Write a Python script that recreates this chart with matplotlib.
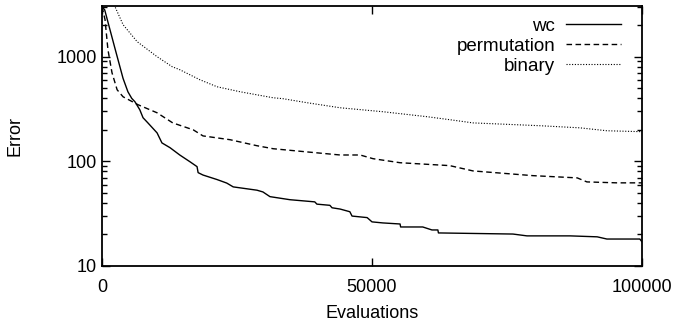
import numpy as np
import matplotlib
matplotlib.use('Agg')
import matplotlib.pyplot as plt
from matplotlib.ticker import LogLocator, NullFormatter, FixedLocator

plt.rcParams['font.family'] = ['Liberation Sans', 'DejaVu Sans']

# 数据：估计值
wc_x = [0, 500, 2400, 3900, 4800, 5500, 6100, 7000, 7600, 8500, 10200, 11100,
        12600, 14400, 16300, 17600, 17800, 18700, 21300, 23100, 24300, 28700,
        29800, 31100, 34800, 39400, 39800, 42200, 42600, 44100, 45900, 46300,
        49100, 50000, 52000, 55200, 55300, 59400, 61100, 62200, 62300, 76100,
        78700, 86700, 91700, 93500, 99600, 100000]
wc_y = [3000, 2800, 1200, 620, 462, 400, 371, 311, 261, 233, 187, 150,
        135, 115, 99, 89, 78, 74, 67, 62, 57, 53,
        51, 46, 43, 41, 39, 38, 36, 35, 33, 30,
        29, 26.4, 25.8, 25.2, 23.6, 23.6, 22.1, 22.1, 20.7, 20.2,
        19.4, 19.4, 19.0, 18.1, 18.1, 17.0]

perm_x = [0, 560, 1100, 1850, 2800, 3900, 6700, 10200, 13100, 16900, 18700,
          23700, 28700, 31700, 38000, 44100, 47800, 50200, 55200, 64400,
          68700, 79800, 88000, 89800, 95400, 100000]
perm_y = [3000, 2260, 1166, 703, 483, 414, 347, 291, 233, 200, 175,
          161, 141, 132, 123, 115, 115, 106, 97, 91,
          81, 73, 69.5, 63.6, 62.3, 62.3]

bin_x = [2000, 2400, 3900, 6500, 10200, 13000, 14400, 18100, 21300, 25600,
         31700, 33500, 38000, 44100, 52000, 60200, 64400, 68700, 81100,
         88500, 93500, 100000]
bin_y = [3300, 3010, 2023, 1393, 1000, 802, 751, 603, 516, 462,
         405, 397, 363, 325, 298, 267, 250, 233, 219,
         209, 196, 192]

fig = plt.figure(figsize=(6.78, 3.27), dpi=100)
ax = fig.add_axes([102 / 678, 1 - 266 / 327, 540 / 678, 260 / 327])

ax.plot(wc_x, wc_y, 'k-', linewidth=1.0, label='wc')
ax.plot(perm_x, perm_y, 'k', linestyle=(0, (4, 2.5)), linewidth=1.0, label='permutation')
ax.plot(bin_x, bin_y, 'k', linestyle=(0, (1, 1.5)), linewidth=0.8, label='binary')

ax.set_yscale('log')
ax.set_xlim(0, 100000)
ax.set_ylim(10, 3050)
ax.xaxis.set_major_locator(FixedLocator([0, 50000, 100000]))
ax.yaxis.set_major_locator(FixedLocator([10, 100, 1000]))
ax.set_yticklabels(['10', '100', '1000'])
ax.yaxis.set_minor_locator(LogLocator(base=10, subs=np.arange(2, 10)))
ax.yaxis.set_minor_formatter(NullFormatter())

ax.tick_params(which='both', direction='in', top=True, right=True, labelsize=13)
ax.tick_params(which='major', length=6, width=1.0)
ax.tick_params(which='minor', length=3.5, width=1.0)
ax.tick_params(axis='x', pad=9)
for s in ax.spines.values():
    s.set_linewidth(1.3)

ax.set_xlabel('Evaluations', fontsize=13, labelpad=7)
ax.set_ylabel('Error', fontsize=13, labelpad=24)

ax.legend(loc='upper right', frameon=False, markerfirst=False, fontsize=13.5,
          handlelength=2.9, labelspacing=0.15, borderaxespad=0.3,
          handletextpad=0.6, bbox_to_anchor=(0.985, 1.005))

fig.savefig('out.png', dpi=100)
